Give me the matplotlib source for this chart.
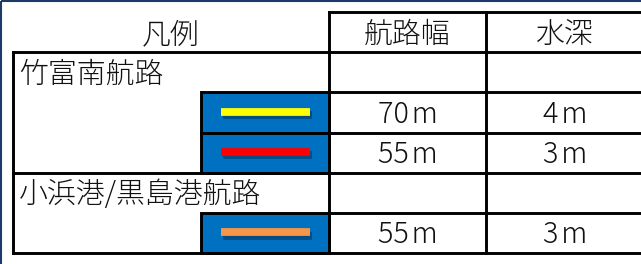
import matplotlib
matplotlib.use('Agg')
import matplotlib.pyplot as plt
import matplotlib.patheffects as pe
from matplotlib.patches import Rectangle

plt.rcParams['font.family'] = ['Noto Sans CJK JP', 'DejaVu Sans']

# ---- data ----
headers     = ['凡例', '航路幅', '水深']
routes      = ['竹富南航路', '小浜港/黒島港航路']
row_route   = [0, 0, 1]                      # which route each legend row belongs to
widths_m    = [70, 55, 55]
depths_m    = [4, 3, 3]
line_colors = ['#FFFF00', '#FF0000', '#F79646']

# ---- layout (pixels) ----
W, H = 641, 264
x_left, x_swatch, x_c1, x_c2, x_right = 13, 201, 329, 486, 644
row_h = 40.2
y_head = 12
lw = 2.1
fs = 20.8
txt = dict(fontsize=fs, color='#111111', fontweight='light')

fig = plt.figure(figsize=(W / 100, H / 100), dpi=100)
ax = fig.add_axes([0, 0, 1, 1])
ax.set_xlim(0, W)
ax.set_ylim(H, 0)
ax.axis('off')

# outer frame (cropped on right / bottom)
ax.add_patch(Rectangle((0.5, 0.5), W + 10, H + 10, fill=False,
                       edgecolor='#1F3A68', linewidth=1.5))


def hline(y, x0, x1):
    ax.plot([x0, x1], [y, y], color='black', lw=lw, solid_capstyle='projecting')


def vline(x, y0, y1):
    ax.plot([x, x], [y0, y1], color='black', lw=lw, solid_capstyle='projecting')


# header
y0 = y_head
y1 = y_head + row_h
yc = (y0 + y1) / 2 + 3
ax.text((x_left + x_c1) / 2, yc, headers[0], ha='center', va='center', **txt)
ax.text((x_c1 + x_c2) / 2, yc, headers[1], ha='center', va='center', **txt)
ax.text((x_c2 + x_right) / 2, yc, headers[2], ha='center', va='center', **txt)
hline(y0, x_c1, x_right)

# body rows
y = y1
for r, name in enumerate(routes):
    # route title row
    top = y
    hline(top, x_left, x_right)
    ax.text(x_left + 6, top + row_h / 2 + 2, name, ha='left', va='center', **txt)
    y += row_h
    for i in [k for k, rr in enumerate(row_route) if rr == r]:
        a, b = y, y + row_h
        ax.add_patch(Rectangle((x_swatch, a), x_c1 - x_swatch, row_h, facecolor='#0070C0',
                               edgecolor='black', linewidth=lw))
        ax.plot([x_swatch + 20, x_swatch + 109], [(a + b) / 2 - 1, (a + b) / 2 - 1],
                color=line_colors[i], lw=5.6, solid_capstyle='butt',
                path_effects=[pe.SimpleLineShadow(offset=(1.5, -2.5), shadow_color='#0A2540', alpha=0.45),
                              pe.Normal()])
        hline(a, x_c1, x_right)
        ax.text((x_c1 + x_c2) / 2, (a + b) / 2 + 2, f'{widths_m[i]}\u200am', ha='center', va='center', **txt)
        ax.text((x_c2 + x_right) / 2, (a + b) / 2 + 2, f'{depths_m[i]}\u200am', ha='center', va='center', **txt)
        y = b
bottom = y
hline(bottom, x_left, x_right)

vline(x_left, y1, bottom)
vline(x_c1, y0, bottom)
vline(x_c2, y0, bottom)
vline(x_right, y0, bottom)

fig.savefig('out.png', dpi=100)
